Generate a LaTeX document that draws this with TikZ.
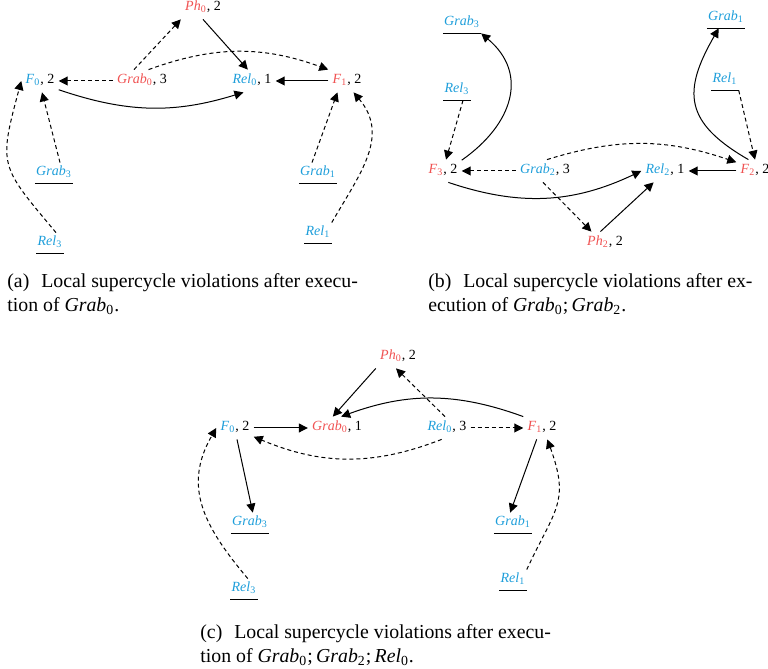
\documentclass[tikz,border=0pt]{standalone}
\usepackage{fontspec}
\setmainfont{Liberation Serif}
\usetikzlibrary{arrows.meta}
\definecolor{pred}{RGB}{240,82,82}
\definecolor{pblue}{RGB}{30,158,218}
\newcommand{\redn}[2]{\textcolor{pred}{\textit{#1}\textsubscript{#2}}}
\newcommand{\bluen}[2]{\textcolor{pblue}{\textit{#1}\textsubscript{#2}}}
\newcommand{\subsc}[2]{\textit{#1}\textsubscript{#2}}
\tikzstyle{lbl}=[font=\fontsize{7}{8}\selectfont, inner sep=2pt, text height=5pt, text depth=2pt]
\tikzstyle{ul}=[lbl, inner xsep=0.5pt, inner ysep=1.5pt, append after command={(\tikzlastnode.south west) edge[line width=0.5pt] (\tikzlastnode.south east)}]
\tikzstyle{sol}=[line width=0.5pt, -{Triangle[length=4.5pt,width=4.5pt]}]
\tikzstyle{dsh}=[sol, dash pattern=on 2pt off 1.5pt]
\tikzstyle{captxt}=[font=\fontsize{9.9}{12}\selectfont, align=left, anchor=base west, inner sep=0pt]

\begin{document}
\begin{tikzpicture}[x=0.5pt,y=0.5pt]
	\useasboundingbox (0,0) rectangle (768,669);
	\node[lbl] (ph0a) at (203,661) {\redn{Ph}{0}, 2};
	\node[lbl] (grab0a) at (142,588) {\redn{Grab}{0}, 3};
	\node[lbl] (f0a) at (40,588) {\bluen{F}{0}, 2};
	\node[lbl] (rel0a) at (252,588) {\bluen{Rel}{0}, 1};
	\node[lbl] (f1a) at (347,588) {\redn{F}{1}, 2};
	\node[ul] (grab3a) at (54,496) {\bluen{Grab}{3}};
	\node[ul] (grab1a) at (318,496) {\bluen{Grab}{1}};
	\node[ul] (rel3a) at (50,426) {\bluen{Rel}{3}};
	\node[ul] (rel1a) at (318,436) {\bluen{Rel}{1}};
	\draw[dsh] (grab0a.125) -- (ph0a.south west);
	\draw[sol] (ph0a.south) -- (rel0a.110);
	\draw[dsh] (grab0a.60) to[bend left=20] (f1a.north west);
	\draw[dsh] (grab0a.west) -- (f0a.east);
	\draw[sol] (f0a.-25) to[bend right=18] (rel0a.233);
	\draw[sol] (f1a.west) -- (rel0a.east);
	\draw[dsh] (grab3a.60) -- (f0a.-80);
	\draw[dsh] (rel3a.60) to[out=130,in=-105,looseness=1.45] (f0a.west);
	\draw[dsh] (grab1a.120) -- (f1a.230);
	\draw[dsh] (rel1a.north east) to[out=60,in=-50,looseness=1.1] (f1a.-60);

	\node[ul] (grab3b) at (462,646) {\bluen{Grab}{3}};
	\node[ul] (grab1b) at (726,651) {\bluen{Grab}{1}};
	\node[ul] (rel3b) at (457,579) {\bluen{Rel}{3}};
	\node[ul] (rel1b) at (725,589) {\bluen{Rel}{1}};
	\node[lbl] (f3b) at (443,498) {\redn{F}{3}, 2};
	\node[lbl] (grab2b) at (545,498) {\bluen{Grab}{2}, 3};
	\node[lbl] (rel2b) at (665,498) {\bluen{Rel}{2}, 1};
	\node[lbl] (f2b) at (755,498) {\redn{F}{2}, 2};
	\node[lbl] (ph2b) at (605,426) {\redn{Ph}{2}, 2};
	\draw[sol] (f3b.30) to[out=35,in=-40,looseness=1.25] (grab3b.south east);
	\draw[dsh] (rel3b.-60) -- (f3b.75);
	\draw[dsh] (grab2b.west) -- (f3b.east);
	\draw[dsh] (grab2b.80) to[bend left=18] (f2b.155);
	\draw[dsh] (grab2b.-100) -- (ph2b.140);
	\draw[sol] (ph2b.112) -- (rel2b.225);
	\draw[sol] (f3b.-65) to[bend right=22] (rel2b.west);
	\draw[sol] (f2b.west) -- (rel2b.east);
	\draw[sol] (f2b.120) to[out=150,in=-120,looseness=1.4] (grab1b.-125);
	\draw[dsh] (rel1b.south east) -- (f2b.north);

	\node[lbl] (ph0c) at (398,312) {\redn{Ph}{0}, 2};
	\node[lbl] (f0c) at (235,241) {\bluen{F}{0}, 2};
	\node[lbl] (grab0c) at (337,241) {\redn{Grab}{0}, 1};
	\node[lbl] (rel0c) at (447,241) {\bluen{Rel}{0}, 3};
	\node[lbl] (f1c) at (542,241) {\redn{F}{1}, 2};
	\node[ul] (grab3c) at (250,146) {\bluen{Grab}{3}};
	\node[ul] (grab1c) at (513,146) {\bluen{Grab}{1}};
	\node[ul] (rel3c) at (244,80) {\bluen{Rel}{3}};
	\node[ul] (rel1c) at (513,89) {\bluen{Rel}{1}};
	\draw[sol] (f0c.east) -- (grab0c.west);
	\draw[sol] (ph0c.south west) -- (grab0c.110);
	\draw[sol] (f1c.north west) to[bend right=20] (grab0c.70);
	\draw[dsh] (rel0c.100) -- (ph0c.-100);
	\draw[dsh] (rel0c.east) -- (f1c.west);
	\draw[dsh] (rel0c.-115) to[bend left=22] (f0c.-25);
	\draw[sol] (f0c.-80) -- (grab3c.75);
	\draw[sol] (f1c.-115) -- (grab1c.105);
	\draw[dsh] (rel3c.70) to[out=130,in=-120,looseness=1.13] (f0c.west);
	\draw[dsh] (rel1c.north east) to[out=65,in=-70,looseness=1.3] (f1c.-65);

	\node[captxt] (capa) at (7,357) {(a)\hspace{0.6em}Local supercycle violations after execu-\\tion of \subsc{Grab}{0}.};
	\node[captxt] (capb) at (428,357) {(b)\hspace{0.6em}Local supercycle violations after ex-\\ecution of \subsc{Grab}{0};\,\subsc{Grab}{2}.};
	\node[captxt] (capc) at (200,6) {(c)\hspace{0.6em}Local supercycle violations after execu-\\tion of \subsc{Grab}{0};\,\subsc{Grab}{2};\,\subsc{Rel}{0}.};
\end{tikzpicture}
\end{document}
